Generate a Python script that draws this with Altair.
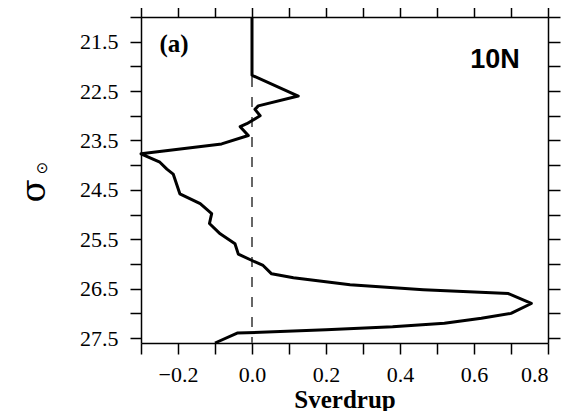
import altair as alt
import pandas as pd

# Profile of transport (Sverdrup) vs potential density sigma-theta
sigma = [21.0, 22.18, 22.6, 22.8, 22.87, 23.0, 23.16, 23.22, 23.4, 23.57, 23.77,
         23.94, 24.08, 24.18, 24.58, 24.78, 24.98, 25.18, 25.39, 25.59, 25.8,
         25.93, 26.03, 26.2, 26.28, 26.42, 26.52, 26.6, 26.8, 27.0, 27.1, 27.2,
         27.27, 27.33, 27.4, 27.6]
transport = [0.0, 0.0, 0.125, 0.017, 0.008, 0.022, -0.014, -0.032, -0.01, -0.082, -0.30,
             -0.249, -0.23, -0.213, -0.195, -0.14, -0.109, -0.115, -0.086, -0.046, -0.037,
             0.0, 0.03, 0.053, 0.112, 0.265, 0.463, 0.693, 0.755, 0.70, 0.62, 0.52,
             0.38, 0.2, -0.04, -0.1]

x_ticks = [-0.3, -0.2, -0.1, 0.0, 0.1, 0.2, 0.3, 0.4, 0.5, 0.6, 0.7, 0.8]
y_ticks = [21.0, 21.5, 22.0, 22.5, 23.0, 23.5, 24.0, 24.5, 25.0, 25.5, 26.0, 26.5, 27.0, 27.5]
zero_line = [0.0]

panel_label = ["(a)"]
lat_label = ["10N"]
y_title_main = ["σ"]
y_title_sub = ["⊙"]
x_title = "Sverdrup"

df = pd.DataFrame({"i": list(range(len(sigma))), "sigma": sigma, "sv": transport})
zdf = pd.DataFrame({"sv": zero_line})

serif = "Liberation Serif"
xscale = alt.Scale(domain=[-0.3, 0.8], nice=False, zero=False)
yscale = alt.Scale(domain=[21.0, 27.6], reverse=True, nice=False, zero=False)

common_axis = dict(domainColor="black", domainWidth=1.5, tickColor="black",
                   tickWidth=1.5, grid=False, labelColor="black",
                   labelFont=serif, labelFontSize=22)

x_bottom = alt.Axis(orient="bottom", values=x_ticks, tickSize=11, labelPadding=10,
                    labelExpr="abs(round(datum.value*10)) % 2 == 0 ? format(datum.value, '.1f') : ''",
                    title=x_title, titleFont=serif, titleFontSize=25, titleFontWeight="bold",
                    titleColor="black", titleBaseline="alphabetic", titleY=64,
                    **common_axis)
y_left = alt.Axis(orient="left", values=y_ticks, tickSize=11, labelPadding=12,
                  labelExpr="datum.value % 1 == 0.5 ? format(datum.value, '.1f') : ''",
                  title=None, **common_axis)
x_top = alt.Axis(orient="top", values=x_ticks, tickSize=11, labels=False, title=None,
                 **common_axis)
y_right = alt.Axis(orient="right", values=y_ticks, tickSize=12, labels=False, title=None,
                   **common_axis)

line = alt.Chart(df).mark_line(color="black", strokeWidth=3, strokeJoin="round").encode(
    x=alt.X("sv:Q", scale=xscale, axis=x_bottom),
    y=alt.Y("sigma:Q", scale=yscale, axis=y_left),
    order="i:Q",
)

frame = alt.Chart(df).mark_point(opacity=0).encode(
    x=alt.X("sv:Q", scale=xscale, axis=x_top),
    y=alt.Y("sigma:Q", scale=yscale, axis=y_right),
)

rule = alt.Chart(zdf).mark_rule(color="#666666", strokeWidth=2, strokeDash=[10, 10]).encode(
    x=alt.X("sv:Q", scale=xscale, axis=None),
)

t_a = alt.Chart(pd.DataFrame({"t": panel_label})).mark_text(
    font=serif, fontSize=25, fontWeight="bold", color="black", align="center", baseline="middle"
).encode(text="t:N", x=alt.value(33), y=alt.value(27))

t_lat = alt.Chart(pd.DataFrame({"t": lat_label})).mark_text(
    font="Liberation Sans", fontSize=27, fontWeight="bold", color="black", align="center", baseline="middle"
).encode(text="t:N", x=alt.value(354), y=alt.value(43))

t_sig = alt.Chart(pd.DataFrame({"t": y_title_main})).mark_text(
    font="DejaVu Serif", fontSize=34, color="black", angle=270, align="center", baseline="middle"
).encode(text="t:N", x=alt.value(-106), y=alt.value(174))

t_sub = alt.Chart(pd.DataFrame({"t": y_title_sub})).mark_text(
    font="DejaVu Sans", fontSize=15, color="black", angle=270, align="center", baseline="middle"
).encode(text="t:N", x=alt.value(-99), y=alt.value(151))

chart = alt.layer(rule, line, frame, t_a, t_lat, t_sig, t_sub).resolve_axis(
    x="independent", y="independent"
).properties(
    width=407, height=326,
    autosize=alt.AutoSizeParams(type="none"),
    padding={"left": 133, "top": 9, "right": 29, "bottom": 68},
).configure_view(stroke="transparent").configure(background="white")

chart.save("out.html", embed_options={"renderer": "svg", "actions": False})
